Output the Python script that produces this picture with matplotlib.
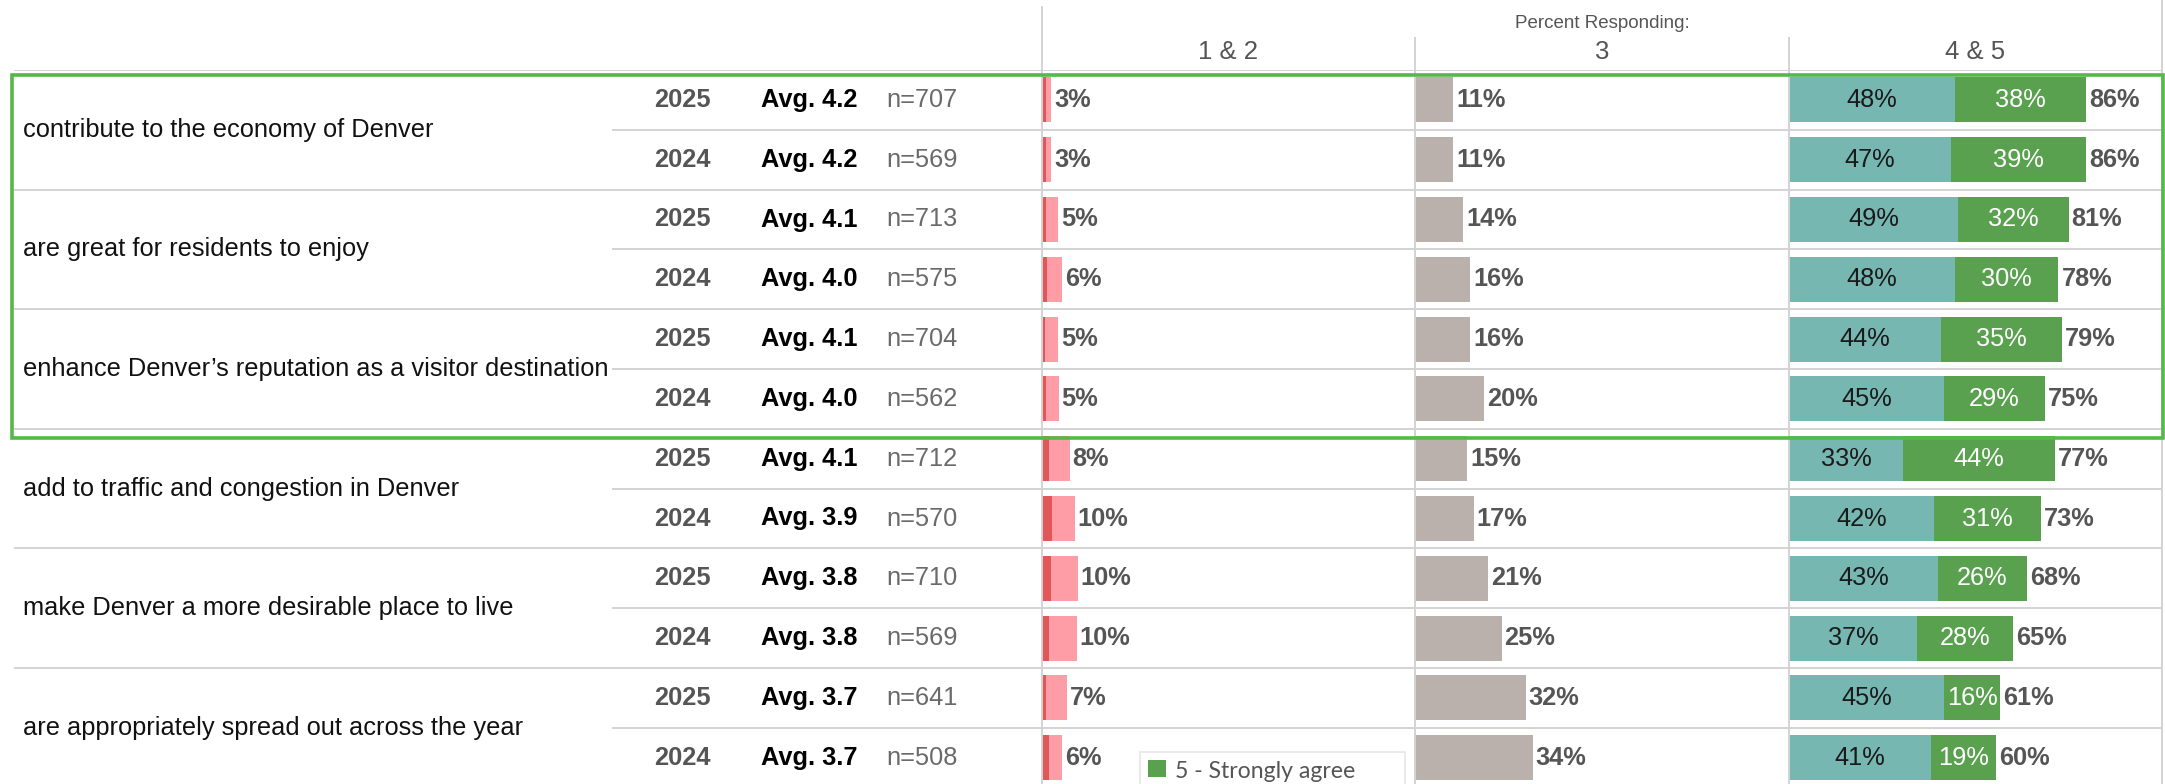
import matplotlib
matplotlib.use("Agg")
import matplotlib.pyplot as plt
from matplotlib.patches import Rectangle
from matplotlib.lines import Line2D

plt.rcParams['font.family'] = ['Liberation Sans', 'DejaVu Sans']

# data
statements = ["contribute to the economy of Denver",
              "are great for residents to enjoy",
              "enhance Denver\u2019s reputation as a visitor destination",
              "add to traffic and congestion in Denver",
              "make Denver a more desirable place to live",
              "are appropriately spread out across the year"]
years = ["2025", "2024"] * 6
avgs = [4.2, 4.2, 4.1, 4.0, 4.1, 4.0, 4.1, 3.9, 3.8, 3.8, 3.7, 3.7]
ns = [707, 569, 713, 575, 704, 562, 712, 570, 710, 569, 641, 508]
strongly_disagree = [1.1, 1.1, 1.3, 1.4, 0.8, 1.1, 2.0, 2.8, 2.5, 2.0, 1.1, 2.0]
disagree = [1.5, 1.5, 3.3, 4.3, 3.8, 3.7, 6.0, 6.7, 7.8, 8.0, 6.0, 3.7]
disagree_lbl = [3, 3, 5, 6, 5, 5, 8, 10, 10, 10, 7, 6]
neutral = [11, 11, 14, 16, 16, 20, 15, 17, 21, 25, 32, 34]
agree = [48, 47, 49, 48, 44, 45, 33, 42, 43, 37, 45, 41]
strongly_agree = [38, 39, 32, 30, 35, 29, 44, 31, 26, 28, 16, 19]
agree_lbl = [86, 86, 81, 78, 79, 75, 77, 73, 68, 65, 61, 60]
panel_titles = ["1 & 2", "3", "4 & 5"]

W, H = 2165, 784
fig = plt.figure(figsize=(W / 100, H / 100), dpi=100)

GRID = '#d3d3d3'
TXT = '#555555'
FS = 18.3
row_top, row_h = 70, 59.8
nrows = len(years)
rows = [i + 0.5 for i in range(nrows)]


def fbox(x0, x1):
    y1 = row_top + nrows * row_h
    return [x0 / W, 1 - y1 / H, (x1 - x0) / W, (y1 - row_top) / H]


def bare(ax):
    ax.set_ylim(nrows, 0)
    ax.axis('off')


# label area
lab = fig.add_axes(fbox(0, 1042))
lab.set_xlim(0, 1042)
bare(lab)
for k in range(nrows + 1):
    x0 = 14 if k % 2 == 0 else 612
    lab.plot([x0, 1042], [k, k], color=GRID, lw=1.4, solid_capstyle='butt')
for g, s in enumerate(statements):
    lab.text(23, 2 * g + 1, s, fontsize=FS, color='#111111', va='center', ha='left')
for i, y in enumerate(rows):
    lab.text(682, y, years[i], fontsize=FS, fontweight='bold', color=TXT, va='center', ha='center')
    lab.text(761, y, f"Avg. {avgs[i]:.1f}", fontsize=FS, fontweight='bold', color='black', va='center', ha='left')
    lab.text(886, y, f"n={ns[i]}", fontsize=FS, color='#6a6a6a', va='center', ha='left')

# bar panels
edges = [1042, 1415, 1789, 2162]
axes = []
for p in range(3):
    ax = fig.add_axes(fbox(edges[p], edges[p + 1]))
    ax.set_xlim(0, 108)
    bare(ax)
    for k in range(nrows + 1):
        ax.axhline(k, color=GRID, lw=1.4, zorder=0)
    axes.append(ax)

bh = 0.75
a1, a2, a3 = axes
a1.barh(rows, strongly_disagree, height=bh, color='#e15759', zorder=2)
a1.barh(rows, disagree, left=strongly_disagree, height=bh, color='#ff9da7', zorder=2)
for i, y in enumerate(rows):
    a1.annotate(f"{disagree_lbl[i]}%", xy=(strongly_disagree[i] + disagree[i], y), xytext=(3, 0),
                textcoords='offset pixels', va='center', ha='left', fontsize=FS,
                fontweight='bold', color=TXT)

a2.barh(rows, neutral, height=bh, color='#bab0ac', zorder=2)
for i, y in enumerate(rows):
    a2.annotate(f"{neutral[i]}%", xy=(neutral[i], y), xytext=(3, 0),
                textcoords='offset pixels', va='center', ha='left', fontsize=FS,
                fontweight='bold', color=TXT)

a3.barh(rows, agree, height=bh, color='#76b7b2', zorder=2)
a3.barh(rows, strongly_agree, left=agree, height=bh, color='#59a14f', zorder=2)
for i, y in enumerate(rows):
    a3.text(agree[i] / 2, y, f"{agree[i]}%", fontsize=FS, color='#1a1a1a', va='center', ha='center')
    a3.text(agree[i] + strongly_agree[i] / 2, y, f"{strongly_agree[i]}%", fontsize=FS,
            color='white', va='center', ha='center')
    a3.annotate(f"{agree_lbl[i]}%", xy=(agree[i] + strongly_agree[i], y), xytext=(3, 0),
                textcoords='offset pixels', va='center', ha='left', fontsize=FS,
                fontweight='bold', color=TXT)

# header
fig.text(1602 / W, 1 - 23 / H, "Percent Responding:", fontsize=13.5, color=TXT, ha='center', va='center')
for p, t in enumerate(panel_titles):
    cx = (edges[p] + edges[p + 1]) / 2
    fig.text(cx / W, 1 - 52 / H, t, fontsize=18.5, color=TXT, ha='center', va='center')

# panel dividers
for x, y0 in zip(edges, [7, 38, 38, 0]):
    fig.add_artist(Line2D([x / W, x / W], [1 - y0 / H, 0], color=GRID, lw=1.4, zorder=5))

# highlight box
fig.add_artist(Rectangle((12 / W, 1 - 438 / H), (2163 - 12) / W, (438 - 75) / H,
                         fill=False, edgecolor='#54b948', lw=2.6, zorder=6))

# partial legend at the bottom
fig.add_artist(Rectangle((1140 / W, 1 - 800 / H), 265 / W, 48 / H, facecolor='white',
                         edgecolor='#e6e6e6', lw=1.2, zorder=7))
fig.add_artist(Rectangle((1148 / W, 1 - 777 / H), 18 / W, 17 / H, facecolor='#59a14f',
                         edgecolor='none', zorder=8))
fig.text(1175 / W, 1 - 778 / H, "5 - Strongly agree", fontsize=16.6, color=TXT,
         ha='left', va='baseline', family=['Lato', 'DejaVu Sans'], zorder=8)

fig.savefig("out.png", dpi=100)
